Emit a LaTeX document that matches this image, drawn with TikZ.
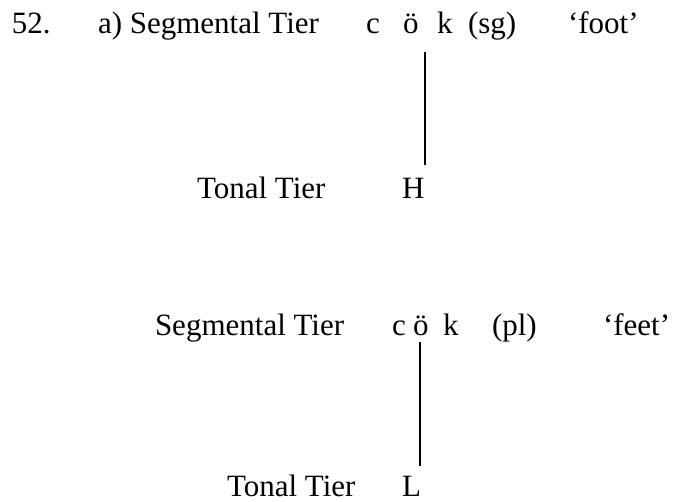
\documentclass[tikz,border=0pt]{standalone}
\usepackage{fontspec}
\setmainfont{Liberation Serif}
\begin{document}
\begin{tikzpicture}[x=1pt,y=-1pt,
  txt/.style={anchor=base west,inner sep=0pt,outer sep=0pt,font=\fontsize{31}{36}\selectfont},
  assoc/.style={line width=1.4pt}]
\useasboundingbox (0,0) rectangle (673,502);
% first form
\node[txt] (num) at (12,34) {52.};
\node[txt] (seg1) at (98,34) {a) Segmental Tier};
\node[txt] (c1) at (366,34) {c};
\node[txt] (o1) at (403,34) {ö};
\node[txt] (k1) at (437,34) {k};
\node[txt] (sg) at (468,34) {(sg)};
\node[txt] (foot) at (568,34) {‘foot’};
\node[txt] (ton1) at (197,199) {Tonal Tier};
\node[txt] (H) at (402,199) {H};
\coordinate (a1) at (425,52);
\coordinate (b1) at (425,165);
\draw[assoc] (a1) -- (b1);
% second form
\node[txt] (seg2) at (155,336) {Segmental Tier};
\node[txt] (c2) at (392,336) {c};
\node[txt] (o2) at (413,336) {ö};
\node[txt] (k2) at (443,336) {k};
\node[txt] (pl) at (492,336) {(pl)};
\node[txt] (feet) at (603,336) {‘feet’};
\node[txt,text depth=0pt] (ton2) at (227,497) {Tonal Tier};
\node[txt,text depth=0pt] (L) at (402,497) {L};
\coordinate (a2) at (420,342);
\coordinate (b2) at (420,466);
\draw[assoc] (a2) -- (b2);
\end{tikzpicture}
\end{document}
